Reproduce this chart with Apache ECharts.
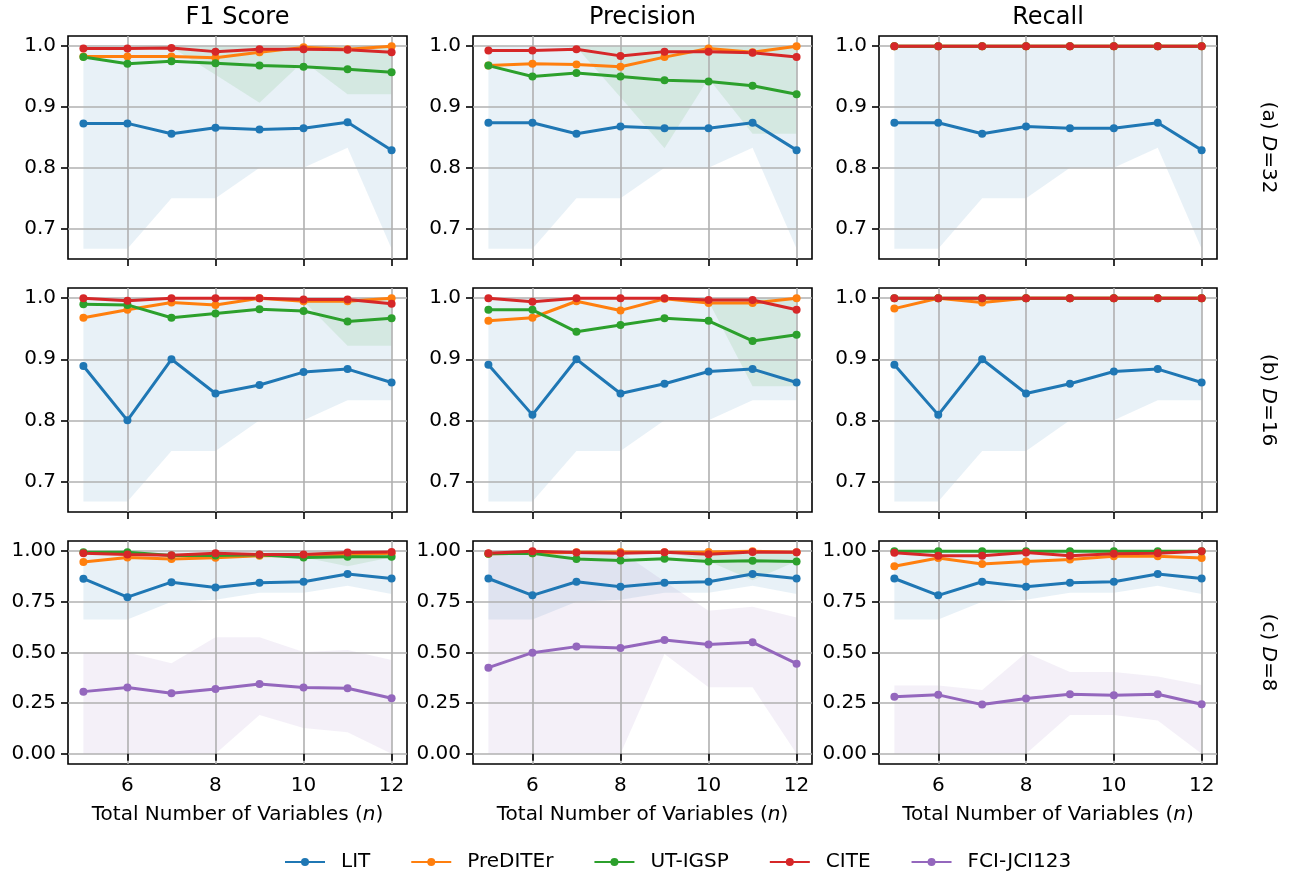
<!DOCTYPE html>
<html>
<head>
<meta charset="utf-8">
<script src="https://cdn.jsdelivr.net/npm/echarts@6/dist/echarts.min.js"></script>
<style>
  html, body { margin: 0; padding: 0; background: #fff; }
  #chart { width: 1291px; height: 876px; }
</style>
</head>
<body>
<div id="chart"></div>
<script>
// x values
const nVars = [5, 6, 7, 8, 9, 10, 11, 12];
const methods = ['LIT', 'PreDITEr', 'UT-IGSP', 'CITE', 'FCI-JCI123'];
const xTicks = [6, 8, 10, 12];
const yTicksHigh = [0.7, 0.8, 0.9, 1.0];
const yTicksLow = [0, 0.25, 0.5, 0.75, 1.0];
const colTitles = ['F1 Score', 'Precision', 'Recall'];
const rowLabels = ['32', '16', '8'];
const ones = [1, 1, 1, 1, 1, 1, 1, 1];

// ---- D = 32 ----
const f1_d32_lit = [0.873, 0.873, 0.856, 0.866, 0.863, 0.865, 0.875, 0.829];
const f1_d32_pre = [0.983, 0.983, 0.983, 0.981, 0.990, 0.998, 0.995, 1.0];
const f1_d32_ut = [0.982, 0.971, 0.975, 0.972, 0.968, 0.966, 0.962, 0.957];
const f1_d32_cite = [0.996, 0.996, 0.997, 0.991, 0.995, 0.995, 0.994, 0.990];
const f1_d32_litLo = [0.667, 0.667, 0.75, 0.75, 0.8, 0.8, 0.833, 0.667];
const f1_d32_utLo = [1.0, 1.0, 0.998, 0.953, 0.907, 0.975, 0.921, 0.921];

const pr_d32_lit = [0.874, 0.874, 0.856, 0.868, 0.865, 0.865, 0.874, 0.829];
const pr_d32_pre = [0.968, 0.971, 0.970, 0.966, 0.982, 0.996, 0.990, 1.0];
const pr_d32_ut = [0.968, 0.950, 0.956, 0.950, 0.944, 0.942, 0.935, 0.921];
const pr_d32_cite = [0.993, 0.993, 0.995, 0.984, 0.991, 0.991, 0.989, 0.982];
const pr_d32_litLo = [0.667, 0.667, 0.75, 0.75, 0.8, 0.8, 0.833, 0.667];
const pr_d32_utLo = [1.0, 1.0, 0.998, 0.916, 0.832, 0.947, 0.856, 0.856];

const re_d32_lit = [0.874, 0.874, 0.856, 0.868, 0.865, 0.865, 0.874, 0.829];
const re_d32_pre = [1, 1, 1, 1, 1, 1, 1, 1];
const re_d32_ut = [1, 1, 1, 1, 1, 1, 1, 1];
const re_d32_cite = [1, 1, 1, 1, 1, 1, 1, 1];
const re_d32_litLo = [0.667, 0.667, 0.75, 0.75, 0.8, 0.8, 0.833, 0.667];

// ---- D = 16 ----
const f1_d16_lit = [0.889, 0.800, 0.900, 0.844, 0.858, 0.879, 0.884, 0.862];
const f1_d16_pre = [0.968, 0.981, 0.993, 0.989, 1.0, 0.995, 0.995, 1.0];
const f1_d16_ut = [0.990, 0.989, 0.968, 0.975, 0.982, 0.979, 0.962, 0.967];
const f1_d16_cite = [1.0, 0.996, 1.0, 1.0, 1.0, 0.998, 0.998, 0.991];
const f1_d16_litLo = [0.667, 0.667, 0.75, 0.75, 0.8, 0.8, 0.833, 0.833];
const f1_d16_utLo = [1, 1, 1, 1, 1, 0.995, 0.922, 0.922];

const pr_d16_lit = [0.891, 0.809, 0.900, 0.844, 0.860, 0.880, 0.884, 0.862];
const pr_d16_pre = [0.963, 0.968, 0.995, 0.980, 0.999, 0.992, 0.992, 1.0];
const pr_d16_ut = [0.981, 0.981, 0.945, 0.956, 0.967, 0.963, 0.930, 0.940];
const pr_d16_cite = [1.0, 0.994, 1.0, 1.0, 1.0, 0.997, 0.997, 0.981];
const pr_d16_litLo = [0.667, 0.667, 0.75, 0.75, 0.8, 0.8, 0.833, 0.833];
const pr_d16_utLo = [1, 1, 1, 1, 1, 0.995, 0.856, 0.856];

const re_d16_lit = [0.891, 0.809, 0.900, 0.844, 0.860, 0.880, 0.884, 0.862];
const re_d16_pre = [0.983, 1.0, 0.993, 1.0, 1.0, 1.0, 1.0, 1.0];
const re_d16_ut = [1, 1, 1, 1, 1, 1, 1, 1];
const re_d16_cite = [1, 1, 1, 1, 1, 1, 1, 1];
const re_d16_litLo = [0.667, 0.667, 0.75, 0.75, 0.8, 0.8, 0.833, 0.833];

// ---- D = 8 ----
const f1_d8_lit = [0.864, 0.773, 0.847, 0.821, 0.844, 0.849, 0.887, 0.865];
const f1_d8_pre = [0.946, 0.969, 0.961, 0.967, 0.977, 0.979, 0.982, 0.989];
const f1_d8_ut = [0.994, 0.994, 0.979, 0.979, 0.982, 0.969, 0.972, 0.972];
const f1_d8_cite = [0.989, 0.984, 0.980, 0.989, 0.984, 0.984, 0.993, 0.996];
const f1_d8_fci = [0.307, 0.327, 0.299, 0.320, 0.345, 0.327, 0.324, 0.274];
const f1_d8_litLo = [0.663, 0.663, 0.75, 0.76, 0.795, 0.795, 0.829, 0.788];
const f1_d8_utLo = [1, 1, 1, 1, 1, 0.97, 0.926, 0.97];
const f1_d8_fciLo = [0, 0, 0, 0, 0.192, 0.127, 0.107, 0];
const f1_d8_fciHi = [0.5, 0.5, 0.447, 0.575, 0.575, 0.502, 0.512, 0.463];

const pr_d8_lit = [0.865, 0.782, 0.849, 0.824, 0.844, 0.849, 0.887, 0.865];
const pr_d8_pre = [0.987, 0.990, 0.995, 0.996, 0.995, 0.996, 1.0, 0.995];
const pr_d8_ut = [0.987, 0.989, 0.961, 0.954, 0.962, 0.949, 0.952, 0.949];
const pr_d8_cite = [0.989, 1.0, 0.993, 0.989, 0.995, 0.985, 0.996, 0.995];
const pr_d8_fci = [0.425, 0.499, 0.529, 0.522, 0.562, 0.539, 0.550, 0.445];
const pr_d8_litLo = [0.663, 0.663, 0.75, 0.76, 0.795, 0.795, 0.829, 0.788];
const pr_d8_utLo = [1, 1, 1, 1, 1, 0.95, 0.857, 0.95];
const pr_d8_fciLo = [0, 0, 0, 0, 0.493, 0.328, 0.328, 0];
const pr_d8_fciHi = [1, 1, 1, 1, 0.85, 0.706, 0.726, 0.673];

const re_d8_lit = [0.865, 0.782, 0.849, 0.824, 0.844, 0.849, 0.887, 0.865];
const re_d8_pre = [0.925, 0.966, 0.937, 0.949, 0.959, 0.975, 0.975, 0.966];
const re_d8_ut = [1, 1, 1, 1, 1, 1, 1, 1];
const re_d8_cite = [0.992, 0.977, 0.977, 0.993, 0.977, 0.987, 0.990, 1.0];
const re_d8_fci = [0.282, 0.291, 0.243, 0.273, 0.294, 0.289, 0.294, 0.245];
const re_d8_litLo = [0.663, 0.663, 0.75, 0.76, 0.795, 0.795, 0.829, 0.788];
const re_d8_fciLo = [0, 0, 0, 0, 0.192, 0.192, 0.164, 0];
const re_d8_fciHi = [0.337, 0.337, 0.315, 0.499, 0.404, 0.404, 0.381, 0.340];

const colors = {
  'LIT': '#1f77b4',
  'PreDITEr': '#ff7f0e',
  'UT-IGSP': '#2ca02c',
  'CITE': '#d62728',
  'FCI-JCI123': '#9467bd'
};

// panels in reading order (row by row)
const panels = [
  { lines: [f1_d32_lit, f1_d32_pre, f1_d32_ut, f1_d32_cite], bands: [['LIT', f1_d32_litLo, ones], ['UT-IGSP', f1_d32_utLo, ones]] },
  { lines: [pr_d32_lit, pr_d32_pre, pr_d32_ut, pr_d32_cite], bands: [['LIT', pr_d32_litLo, ones], ['UT-IGSP', pr_d32_utLo, ones]] },
  { lines: [re_d32_lit, re_d32_pre, re_d32_ut, re_d32_cite], bands: [['LIT', re_d32_litLo, ones]] },
  { lines: [f1_d16_lit, f1_d16_pre, f1_d16_ut, f1_d16_cite], bands: [['LIT', f1_d16_litLo, ones], ['UT-IGSP', f1_d16_utLo, ones]] },
  { lines: [pr_d16_lit, pr_d16_pre, pr_d16_ut, pr_d16_cite], bands: [['LIT', pr_d16_litLo, ones], ['UT-IGSP', pr_d16_utLo, ones]] },
  { lines: [re_d16_lit, re_d16_pre, re_d16_ut, re_d16_cite], bands: [['LIT', re_d16_litLo, ones]] },
  { lines: [f1_d8_lit, f1_d8_pre, f1_d8_ut, f1_d8_cite, f1_d8_fci], bands: [['LIT', f1_d8_litLo, ones], ['UT-IGSP', f1_d8_utLo, ones], ['FCI-JCI123', f1_d8_fciLo, f1_d8_fciHi]] },
  { lines: [pr_d8_lit, pr_d8_pre, pr_d8_ut, pr_d8_cite, pr_d8_fci], bands: [['LIT', pr_d8_litLo, ones], ['UT-IGSP', pr_d8_utLo, ones], ['FCI-JCI123', pr_d8_fciLo, pr_d8_fciHi]] },
  { lines: [re_d8_lit, re_d8_pre, re_d8_ut, re_d8_cite, re_d8_fci], bands: [['LIT', re_d8_litLo, ones], ['FCI-JCI123', re_d8_fciLo, re_d8_fciHi]] }
];

const FONT = 'DejaVu Sans';
const FS = 20;
const colLeft = [68, 473, 879];
const colWidth = [339, 339, 338];
const rowTop = [36, 288, 541];
const rowHeight = [223, 224, 223];

function fade(hex, a) {
  const r = parseInt(hex.slice(1, 3), 16), g = parseInt(hex.slice(3, 5), 16), b = parseInt(hex.slice(5, 7), 16);
  return 'rgba(' + r + ',' + g + ',' + b + ',' + a + ')';
}

const grids = [], xAxes = [], yAxes = [], series = [];

panels.forEach((p, k) => {
  const row = Math.floor(k / 3), col = k % 3;
  const bottomRow = row === 2;
  grids.push({
    left: colLeft[col], top: rowTop[row], width: colWidth[col], height: rowHeight[row],
    show: true, borderColor: '#000', borderWidth: 1.6, backgroundColor: 'transparent'
  });
  xAxes.push({
    type: 'value', gridIndex: k, min: 4.65, max: 12.35, z: 1.5,
    axisLine: { show: false },
    axisTick: { show: true, length: 7, customValues: xTicks, lineStyle: { color: '#000', width: 1.6 } },
    axisLabel: { show: bottomRow, customValues: xTicks, fontSize: FS, fontFamily: FONT, color: '#000', margin: 12 },
    splitLine: { show: true, lineStyle: { color: '#b0b0b0', width: 1.6 } },
    name: bottomRow ? 'Total Number of Variables ({it|n})' : '',
    nameLocation: 'middle', nameGap: 41,
    nameTextStyle: { fontSize: FS, fontFamily: FONT, color: '#000',
      rich: { it: { fontSize: FS, fontFamily: FONT, fontStyle: 'italic', color: '#000' } } }
  });
  const yt = bottomRow ? yTicksLow : yTicksHigh;
  yAxes.push({
    type: 'value', gridIndex: k, z: 1.5,
    min: bottomRow ? -0.05 : 0.65, max: bottomRow ? 1.05 : 1.0167,
    axisLine: { show: false },
    axisTick: { show: true, length: 7, customValues: yt, lineStyle: { color: '#000', width: 1.6 } },
    axisLabel: { customValues: yt, fontSize: FS, fontFamily: FONT, color: '#000', margin: 12,
      formatter: v => v.toFixed(bottomRow ? 2 : 1) },
    splitLine: { show: true, lineStyle: { color: '#b0b0b0', width: 1.6 } }
  });

  // shaded ranges, drawn under the grid lines like matplotlib
  p.bands.forEach(b => {
    const [m, lo, hi] = b;
    series.push({
      type: 'custom', xAxisIndex: k, yAxisIndex: k, z: 1, silent: true, clip: true,
      data: nVars.map((x, i) => [x, lo[i], hi[i]]),
      encode: { x: 0, y: [1, 2] },
      renderItem: (params, api) => {
        if (params.dataIndexInside !== 0) return null;
        const n = params.dataInsideLength;
        const pts = [];
        for (let i = 0; i < n; i++) pts.push(api.coord([api.value(0, i), api.value(2, i)]));
        for (let i = n - 1; i >= 0; i--) pts.push(api.coord([api.value(0, i), api.value(1, i)]));
        return { type: 'polygon', shape: { points: pts }, style: { fill: fade(colors[m], 0.1) } };
      }
    });
  });

  p.lines.forEach((vals, j) => {
    const m = methods[j];
    series.push({
      name: m, type: 'line', xAxisIndex: k, yAxisIndex: k, z: 3,
      data: nVars.map((x, i) => [x, vals[i]]),
      symbol: 'circle', symbolSize: 8, showSymbol: true,
      color: colors[m],
      lineStyle: { width: 3, color: colors[m] },
      itemStyle: { color: colors[m] }
    });
  });
});

const graphics = [];
colTitles.forEach((t, c) => {
  graphics.push({
    type: 'text', x: colLeft[c] + colWidth[c] / 2, y: 18,
    style: { text: t, fontSize: 24, fontFamily: FONT, fill: '#000', align: 'center', verticalAlign: 'middle' }
  });
});
['(a)', '(b)', '(c)'].forEach((tag, r) => {
  graphics.push({
    type: 'text', x: 1268, y: rowTop[r] + rowHeight[r] / 2, rotation: -Math.PI / 2,
    style: {
      text: tag + ' {it|D}=' + rowLabels[r], fontSize: FS, fontFamily: FONT, fill: '#000',
      align: 'center', verticalAlign: 'middle',
      rich: { it: { fontSize: FS, fontFamily: FONT, fontStyle: 'italic', fill: '#000' } }
    }
  });
});

const chart = echarts.init(document.getElementById('chart'), null, { renderer: 'canvas' });
chart.setOption({
  animation: false,
  backgroundColor: '#fff',
  grid: grids,
  xAxis: xAxes,
  yAxis: yAxes,
  legend: {
    data: methods, left: 279, top: 847,
    itemWidth: 40, itemHeight: 10, itemGap: 40,
    textStyle: { fontSize: FS, fontFamily: FONT, color: '#000', padding: [0, 0, 0, 11] }
  },
  graphic: graphics,
  series: series
});
</script>
</body>
</html>
